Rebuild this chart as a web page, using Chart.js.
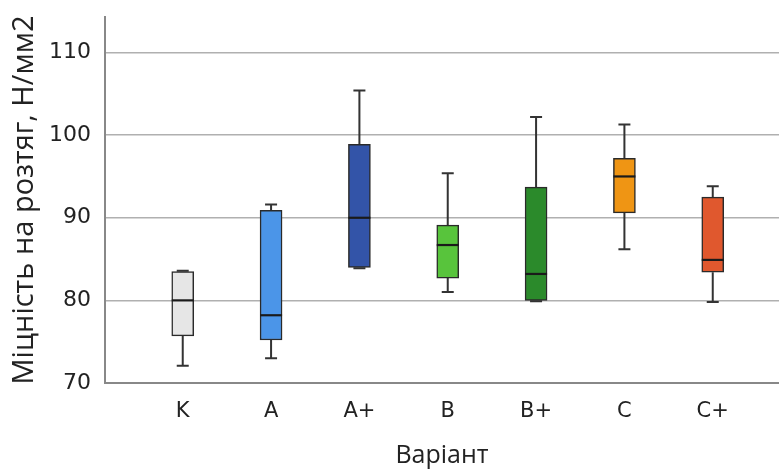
<!DOCTYPE html>
<html>
<head>
<meta charset="utf-8">
<script src="https://cdn.jsdelivr.net/npm/chart.js@4"></script>
<style>
  html, body { margin: 0; padding: 0; background: #fff; }
  #chart { display: block; }
</style>
</head>
<body>
<canvas id="chart" width="779" height="471"></canvas>
<script>
// --- Data ---
const variants = ['K', 'A', 'A+', 'B', 'B+', 'C', 'C+'];
const mins     = [72.1, 73.0, 83.9, 81.0, 79.9, 86.2, 79.8];
const q1s      = [75.7, 75.2, 84.0, 82.7, 80.0, 90.6, 83.4];
const medians  = [80.0, 78.2, 90.0, 86.7, 83.2, 95.0, 84.9];
const q3s      = [83.5, 90.9, 98.9, 89.1, 93.7, 97.2, 92.5];
const maxs     = [83.6, 91.6, 105.4, 95.4, 102.2, 101.3, 93.8];
const boxColors = ['#e6e6e6', '#4b95e8', '#3354a8', '#58c43c', '#2b8a2b', '#ef9514', '#e0582e'];
const yTicks   = [70, 80, 90, 100, 110];

const textColor = '#222';

// whiskers behind the boxes, medians on top
const boxPlotLines = {
  id: 'boxPlotLines',
  beforeDatasetsDraw(chart) {
    const { ctx, scales: { x, y } } = chart;
    ctx.save();
    ctx.strokeStyle = '#333';
    ctx.lineWidth = 2;
    variants.forEach((_, i) => {
      const cx = x.getPixelForValue(i);
      const cap = 6;
      ctx.beginPath();
      ctx.moveTo(cx, y.getPixelForValue(maxs[i]));
      ctx.lineTo(cx, y.getPixelForValue(q3s[i]));
      ctx.moveTo(cx, y.getPixelForValue(q1s[i]));
      ctx.lineTo(cx, y.getPixelForValue(mins[i]));
      ctx.moveTo(cx - cap, y.getPixelForValue(maxs[i]));
      ctx.lineTo(cx + cap, y.getPixelForValue(maxs[i]));
      ctx.moveTo(cx - cap, y.getPixelForValue(mins[i]));
      ctx.lineTo(cx + cap, y.getPixelForValue(mins[i]));
      ctx.stroke();
    });
    ctx.restore();
  },
  afterDatasetsDraw(chart) {
    const { ctx, scales: { x, y } } = chart;
    const meta = chart.getDatasetMeta(0);
    ctx.save();
    ctx.strokeStyle = '#1a1a1a';
    ctx.lineWidth = 2.2;
    variants.forEach((_, i) => {
      const bar = meta.data[i];
      const half = bar.width / 2;
      const cx = x.getPixelForValue(i);
      const my = y.getPixelForValue(medians[i]);
      ctx.beginPath();
      ctx.moveTo(cx - half, my);
      ctx.lineTo(cx + half, my);
      ctx.stroke();
    });
    ctx.restore();
  },
};

new Chart(document.getElementById('chart'), {
  type: 'bar',
  data: {
    datasets: [{
      data: variants.map((_, i) => ({ x: i, y: [q1s[i], q3s[i]] })),
      backgroundColor: boxColors,
      borderColor: '#2a2a2a',
      borderWidth: 1.5,
      borderSkipped: false,
      barThickness: 22,
    }],
  },
  options: {
    responsive: false,
    animation: false,
    layout: { padding: { top: 17, right: 0, left: 0, bottom: 0 } },
    plugins: {
      legend: { display: false },
      tooltip: { enabled: false },
    },
    scales: {
      x: {
        type: 'linear',
        offset: false,
        min: -0.88,
        max: 6.75,
        afterBuildTicks: scale => { scale.ticks = variants.map((_, i) => ({ value: i })); },
        afterFit: scale => { scale.height = 88; },
        ticks: {
          autoSkip: false,
          maxRotation: 0,
          padding: 16,
          color: textColor,
          font: { family: "'DejaVu Sans', sans-serif", size: 21 },
          callback: v => variants[v],
        },
        grid: { display: false, drawTicks: false },
        border: { color: '#888', width: 2 },
        title: {
          display: true,
          text: 'Варіант',
          color: textColor,
          font: { family: "'Open Sans', sans-serif", size: 25 },
          padding: { top: 0, bottom: 0 },
        },
      },
      y: {
        min: 70,
        max: 114.3,
        afterBuildTicks: scale => { scale.ticks = yTicks.map(v => ({ value: v })); },
        afterFit: scale => {
          scale.width = 105;
          scale.paddingTop = 0;
          scale.paddingBottom = 0;
        },
        ticks: {
          padding: 14,
          color: textColor,
          font: { family: "'DejaVu Sans', sans-serif", size: 22 },
        },
        grid: { color: '#b0b0b0', lineWidth: 1.6, drawTicks: false },
        border: { color: '#888', width: 2 },
        title: {
          display: true,
          text: 'Міцність на розтяг, Н/мм2',
          color: textColor,
          font: { family: "'Open Sans', sans-serif", size: 29 },
          padding: { top: 7, bottom: 0 },
        },
      },
    },
  },
  plugins: [boxPlotLines],
});
</script>
</body>
</html>
